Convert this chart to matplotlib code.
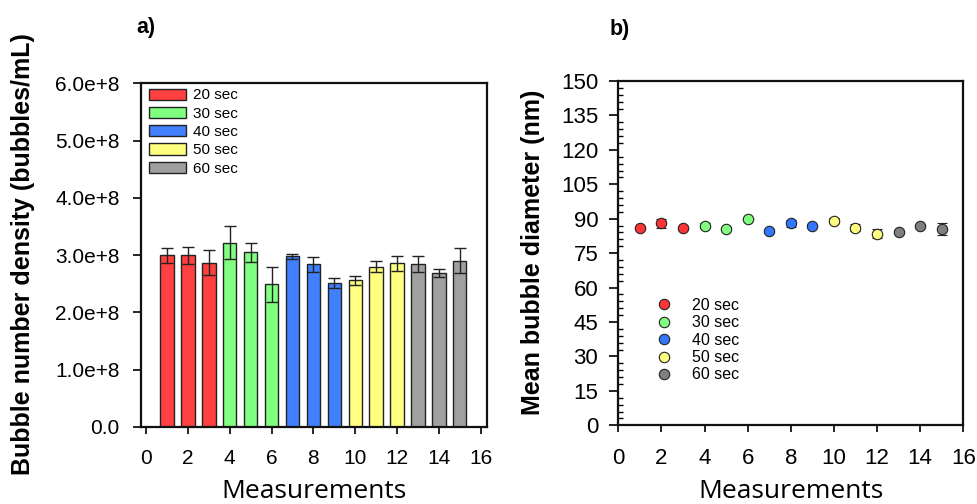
import matplotlib
matplotlib.use("Agg")
import matplotlib.pyplot as plt
import numpy as np
from matplotlib.ticker import MultipleLocator

# ---- data ----
measurements = list(range(1, 16))
durations = ["20 sec", "30 sec", "40 sec", "50 sec", "60 sec"]
group_of = [0, 0, 0, 1, 1, 1, 2, 2, 2, 3, 3, 3, 4, 4, 4]
bar_colors = ["#FF4040", "#80FF80", "#4080FF", "#FFFF80", "#A0A0A0"]
dot_colors = ["#FF3333", "#80FF80", "#3377FF", "#FFFF80", "#7F7F7F"]

density = [3.00e8, 3.00e8, 2.87e8, 3.22e8, 3.05e8, 2.49e8, 2.98e8, 2.84e8,
           2.51e8, 2.56e8, 2.80e8, 2.86e8, 2.84e8, 2.69e8, 2.90e8]
density_err = [0.13e8, 0.15e8, 0.22e8, 0.29e8, 0.17e8, 0.30e8, 0.04e8, 0.13e8,
               0.09e8, 0.08e8, 0.09e8, 0.13e8, 0.14e8, 0.07e8, 0.22e8]

diameter = [86.1, 88.0, 86.0, 87.0, 85.7, 89.8, 84.7, 88.0, 86.8, 89.2,
            86.1, 83.4, 84.2, 86.7, 85.5]
diameter_err = [0.8, 2.0, 1.0, 1.0, 0.7, 0.5, 1.0, 1.5, 1.0, 1.0,
                1.5, 2.0, 0.7, 0.7, 2.5]

density_ticks = [0, 1e8, 2e8, 3e8, 4e8, 5e8, 6e8]
density_ticklabels = ["0.0", "1.0e+8", "2.0e+8", "3.0e+8", "4.0e+8", "5.0e+8", "6.0e+8"]
diameter_ticks = list(range(0, 151, 15))
x_ticks = list(range(0, 17, 2))

plt.rcParams["font.family"] = ["Liberation Sans", "DejaVu Sans"]

W, H = 977, 504
fig = plt.figure(figsize=(W / 100, H / 100), dpi=100)

def frac(x0, y0, x1, y1):
    return [x0 / W, 1 - y1 / H, (x1 - x0) / W, (y1 - y0) / H]

axA = fig.add_axes(frac(140.7, 83.3, 486.7, 427))
axB = fig.add_axes(frac(618.3, 81, 963.3, 425.3))

# ---- panel a: bars ----
for d in range(len(durations)):
    idx = [i for i, g in enumerate(group_of) if g == d]
    xs = [measurements[i] for i in idx]
    ys = [density[i] for i in idx]
    es = [density_err[i] for i in idx]
    axA.bar(xs, ys, width=0.64, color=bar_colors[d], edgecolor="#222222",
            linewidth=1.0, label=durations[d], zorder=2)
    axA.errorbar(xs, ys, yerr=es, fmt="none", ecolor="#222222", elinewidth=1.0,
                 capsize=4.3, capthick=1.0, zorder=3)

axA.set_xlim(-0.26, 16.29)
axA.set_ylim(0, 6e8)
axA.set_yticks(density_ticks)
axA.set_yticklabels(density_ticklabels)
axA.set_xticks(x_ticks)
axA.set_xticklabels([str(t) for t in x_ticks])
axA.tick_params(axis="y", direction="out", length=6, width=1.2, labelsize=15, pad=9)
axA.tick_params(axis="x", direction="out", length=5, width=1.2, labelsize=15, pad=11)
for s in axA.spines.values():
    s.set_linewidth(1.6)
    s.set_color("#111111")
legA = axA.legend(loc="upper left", bbox_to_anchor=(0.024, 0.985), frameon=False,
                  fontsize=11, handlelength=2.4, handleheight=0.75,
                  labelspacing=0.28, handletextpad=0.5, borderpad=0, borderaxespad=0)

# ---- panel b: points ----
for d in range(len(durations)):
    idx = [i for i, g in enumerate(group_of) if g == d]
    xs = [measurements[i] for i in idx]
    ys = [diameter[i] for i in idx]
    es = [diameter_err[i] for i in idx]
    axB.errorbar(xs, ys, yerr=es, fmt="o", color=dot_colors[d], ecolor="#222222",
                 markeredgecolor="#222222", markeredgewidth=0.8, markersize=7.5,
                 elinewidth=1.0, capsize=3.8, capthick=1.0, label=durations[d], zorder=3)

axB.set_xlim(0, 16)
axB.set_ylim(0, 150)
axB.set_yticks(diameter_ticks)
axB.set_yticklabels([str(t) for t in diameter_ticks])
axB.yaxis.set_minor_locator(MultipleLocator(3))
axB.set_xticks(x_ticks)
axB.set_xticklabels([str(t) for t in x_ticks])
axB.tick_params(axis="y", which="major", direction="out", length=6.5, width=1.2,
                labelsize=16, pad=8)
axB.tick_params(axis="y", which="minor", direction="in", length=3.5, width=1.0)
axB.tick_params(axis="x", direction="out", length=5, width=1.2, labelsize=16, pad=11)
for s in axB.spines.values():
    s.set_linewidth(1.6)
    s.set_color("#111111")
handles, labels = axB.get_legend_handles_labels()
handles = [h[0] for h in handles]
legB = axB.legend(handles, labels, loc="upper left", bbox_to_anchor=(0.085, 0.37),
                  frameon=False, fontsize=11.5, handlelength=2.0, numpoints=1,
                  labelspacing=0.15, handletextpad=0.8, borderpad=0, borderaxespad=0)

# ---- labels ----
fig.text(23 / W, 1 - 254 / H, "Bubble number density (bubbles/mL)", rotation=90,
         fontsize=18, fontweight="bold", ha="center", va="center")
fig.text(533 / W, 1 - 252 / H, "Mean bubble diameter (nm)", rotation=90,
         fontsize=18, fontweight="bold", ha="center", va="center")
fig.text(314 / W, 0.5 / H, "Measurements", fontsize=19, family=["Open Sans", "DejaVu Sans"],
         ha="center", va="bottom")
fig.text(791 / W, 0.5 / H, "Measurements", fontsize=19, family=["Open Sans", "DejaVu Sans"],
         ha="center", va="bottom")
fig.text(146 / W, 1 - 27 / H, "a)", fontsize=15.5, fontweight="bold", ha="center", va="center")
fig.text(620 / W, 1 - 29 / H, "b)", fontsize=15.5, fontweight="bold", ha="center", va="center")

fig.savefig("out.png", dpi=100)
